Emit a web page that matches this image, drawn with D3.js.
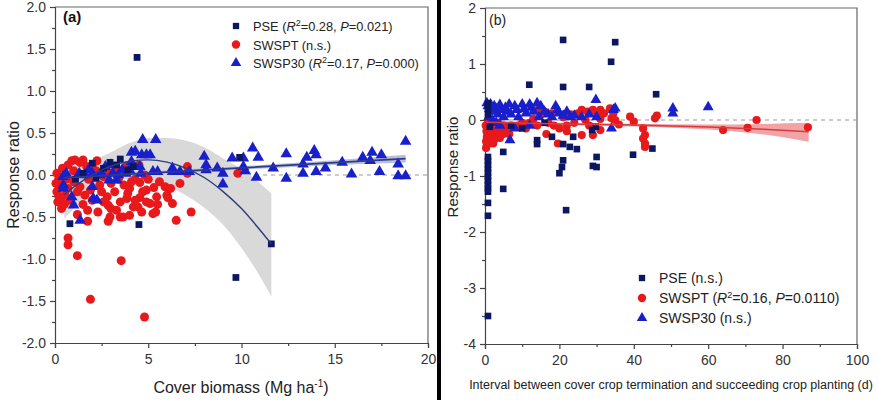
<!DOCTYPE html>
<html><head><meta charset="utf-8">
<script src="https://cdn.jsdelivr.net/npm/d3@7"></script>
<style>
body{margin:0;background:#fff;}
svg{display:block;font-family:"Liberation Sans",Arial,sans-serif;}
</style>
</head><body>
<svg id="c" width="879" height="400"></svg>
<script>
// ---------------- DATA ----------------
// Panel (a): x = cover biomass (Mg/ha), y = response ratio
const aPSE = [[0.8,-0.58],[4.5,-0.59],[9.7,-1.22],[11.6,-0.82],[4.4,1.4],[2.0,0.14],[2.95,0.15],[3.5,0.19],[3.3,0.12],[9.9,0.21],[1.5,0.02],[2.6,0.08],[3.9,0.06],[2.2,-0.04],[1.1,-0.05],[4.2,0.1]];
const aSWSPT = [[0.1,0.02],[0.7,0.12],[1.07,0.18],[1.34,0.15],[1.7,0.1],[2.25,0.17],[0.9,0.17],[1.5,0.18],[2.0,0.12],[0.4,0.08],[0.2,-0.05],[0.05,-0.1],[0.27,-0.14],[0.1,-0.2],[0.54,-0.24],[0.7,-0.16],[0.3,-0.3],[0.15,-0.32],[0.6,-0.05],[1.0,-0.08],[1.2,-0.2],[1.34,-0.14],[1.6,-0.24],[1.8,-0.05],[2.4,-0.12],[2.6,-0.02],[2.8,-0.26],[2.85,-0.36],[3.0,-0.1],[3.2,-0.2],[3.5,-0.32],[3.4,-0.05],[3.7,-0.12],[3.85,-0.28],[4.0,-0.16],[4.2,-0.38],[4.3,-0.05],[4.55,-0.27],[4.55,-0.09],[4.8,0.0],[4.9,-0.18],[5.1,-0.34],[5.0,-0.05],[5.45,-0.26],[5.6,-0.08],[5.9,-0.14],[6.05,-0.27],[5.3,-0.15],[0.35,-0.4],[1.75,-0.42],[1.2,-0.47],[1.75,-0.55],[2.3,-0.44],[2.85,-0.55],[2.95,-0.5],[3.5,-0.5],[3.65,-0.5],[4.0,-0.48],[4.45,-0.38],[4.65,-0.44],[4.9,-0.32],[5.25,-0.46],[5.4,-0.44],[6.0,-0.24],[6.3,-0.34],[6.7,-0.1],[6.5,-0.54],[7.3,-0.44],[6.2,-0.16],[7.1,0.1],[7.1,0.02],[9.8,0.02],[0.7,-0.75],[0.7,-0.83],[1.2,-0.96],[1.9,-1.48],[3.55,-1.02],[4.8,-1.69],[2.2,0.05],[2.9,0.02],[3.3,0.08],[3.8,0.1],[4.5,0.12],[1.0,0.05],[0.5,-0.35],[2.0,-0.3],[2.5,-0.2],[3.0,-0.4],[3.9,-0.22],[4.3,-0.3],[5.5,-0.35],[0.8,-0.3],[1.5,-0.35],[3.2,0.04],[4.7,-0.2],[0.2,-0.25],[1.9,-0.18],[2.6,-0.32],[3.3,-0.42],[4.1,-0.08]];
const aSWSP30 = [[0.45,-0.12],[0.43,-0.02],[0.6,0.02],[0.45,-0.16],[0.9,-0.26],[1.0,-0.36],[1.35,-0.54],[1.3,0.02],[1.6,0.0],[2.0,0.02],[2.0,-0.14],[2.05,-0.28],[2.25,-0.3],[2.4,0.0],[2.5,0.02],[2.9,-0.06],[3.1,0.02],[3.3,-0.06],[3.4,0.0],[3.6,0.06],[3.8,0.02],[4.0,0.06],[4.1,0.16],[4.1,0.27],[4.3,0.28],[4.55,0.1],[4.6,0.02],[4.65,0.24],[4.7,0.42],[4.9,0.24],[5.1,0.24],[5.25,0.04],[5.4,0.42],[5.5,0.04],[6.3,0.08],[6.3,0.04],[6.7,0.04],[7.2,0.04],[8.0,0.22],[8.1,0.12],[8.1,0.06],[8.7,0.08],[9.0,0.02],[9.0,-0.11],[9.5,0.2],[10.1,0.2],[10.1,0.1],[10.2,0.05],[10.6,0.32],[10.9,0.21],[10.8,-0.03],[11.7,0.08],[12.4,0.25],[12.4,-0.04],[13.3,0.13],[13.3,0.02],[13.5,0.21],[13.9,0.29],[14.0,0.24],[14.0,0.04],[14.5,0.08],[15.4,0.15],[15.9,0.01],[16.5,0.21],[16.9,0.17],[17.0,0.27],[17.4,0.04],[17.5,0.24],[18.4,0.13],[18.4,-0.01],[18.8,-0.01],[18.8,0.4],[1.8,0.06],[2.7,0.1],[3.0,0.12]];
// fitted curves: [x, fit, lower, upper]
const aPSEfit = [[0.5,-0.236,-0.52,0.05],[1,-0.145,-0.40,0.10],[2,0.002,-0.17,0.17],[3,0.105,-0.06,0.27],[4,0.164,-0.05,0.38],[5,0.18,-0.08,0.44],[6,0.154,-0.13,0.44],[7,0.083,-0.24,0.41],[8,-0.03,-0.39,0.33],[9,-0.195,-0.59,0.2],[10,-0.40,-0.87,0.07],[11,-0.657,-1.21,-0.1],[11.6,-0.82,-1.45,-0.22]];
const aSWSP30fit = [[0.45,-0.035,-0.08,0.01],[5,0.022,0.0,0.045],[10,0.085,0.065,0.105],[15,0.148,0.12,0.176],[18.8,0.195,0.15,0.24]];
// Panel (b): x = interval (d), y = response ratio
const bPSE = [[21,1.43],[35,1.39],[33.9,1.04],[11.9,0.63],[21,0.59],[28,0.59],[46,0.46],[0.8,0.3],[0.8,0.2],[0.8,0.1],[4.9,-0.57],[4.9,-1.23],[14,-0.36],[14,-0.43],[18,-0.3],[20,-0.95],[20.7,-0.84],[21,-0.72],[21,-0.43],[22.8,-0.48],[23.7,-0.3],[24.7,-0.52],[29,-0.82],[30,-0.84],[30,-0.66],[29.8,-0.12],[28.8,-0.18],[39.8,-0.62],[45,-0.51],[1.3,-0.12],[0.8,-0.66],[0.8,-0.73],[0.8,-0.8],[0.8,-0.87],[0.8,-0.94],[0.8,-1.01],[0.8,-1.08],[0.8,-1.15],[0.8,-1.22],[0.8,-1.28],[0.8,-1.48],[0.8,-1.71],[0.8,-3.5],[21.8,-1.61],[7,-0.1],[10,-0.15],[16,-0.05]];
const bSWSPT = [[0.3,-0.5],[0.5,-0.45],[0.8,-0.4],[1,-0.35],[1.2,-0.3],[1.5,-0.25],[0.5,-0.3],[0.4,-0.2],[0.6,-0.1],[0.8,0.0],[1,-0.15],[1.5,-0.4],[2,-0.3],[2,-0.2],[2.5,-0.35],[2.5,-0.15],[3,-0.28],[3,-0.1],[3.5,-0.25],[3.5,-0.05],[4,-0.2],[4,-0.32],[4.5,-0.15],[5,-0.25],[5,-0.1],[5.5,-0.2],[6,-0.15],[6.5,-0.25],[7,-0.1],[1.2,-0.05],[1.8,-0.12],[2.2,-0.42],[0.3,-0.38],[0.2,-0.1],[9,-0.1],[10,-0.05],[11,-0.15],[12,-0.05],[13,0.02],[14,-0.1],[14.2,0.18],[15,0.1],[16,0.15],[17,-0.05],[18,0.12],[18.5,-0.1],[19.6,-0.42],[20,-0.15],[21,0.05],[22,-0.1],[23,0.1],[24,-0.05],[25,0.12],[26,0.18],[26,-0.27],[27,0.0],[27.5,0.15],[28,-0.1],[29,0.18],[29,-0.27],[30,0.1],[31,0.18],[31,0.02],[31,-0.18],[32,0.12],[33.6,0.21],[34,0.03],[34.5,0.12],[39,0.06],[40,-0.03],[42.5,-0.15],[42.5,-0.33],[43,-0.27],[43,-0.42],[43,-0.48],[45.7,0.03],[46.2,0.08],[64,-0.18],[70.6,-0.14],[73,0.0],[86.8,-0.13],[35,0.0],[36,-0.08],[16.5,-0.25],[22,-0.2]];
const bSWSP30 = [[0.5,0.3],[0.8,0.25],[1.2,0.2],[1.5,0.28],[2,0.15],[2.5,0.25],[3,0.2],[3.5,0.1],[4,0.27],[4.5,0.18],[5,0.05],[5.5,0.22],[6,0.15],[6.5,0.28],[7,0.1],[8,0.25],[8.5,0.18],[9,0.05],[10,0.28],[10.5,0.2],[11,0.12],[12,0.28],[12.5,0.22],[13,0.15],[14,0.3],[14.5,0.05],[15,0.25],[16,0.15],[17,0.1],[18,0.05],[19,0.25],[19.5,0.18],[20,0.12],[21,0.08],[22,0.15],[23,0.05],[24,0.08],[1,0.05],[2,0.0],[3,-0.05],[4,-0.1],[6.7,-0.36],[8,-0.15],[12,-0.1],[29.8,0.36],[35,0.21],[34,-0.15],[50.5,0.21],[50.5,0.12],[60,0.23],[34.5,0.18],[26,0.05],[28,0.1],[30,0.05]];
const bSWSPTfit = [[0.5,-0.04,-0.07,-0.01],[20,-0.07,-0.09,-0.05],[40,-0.09,-0.115,-0.065],[60,-0.125,-0.17,-0.08],[75,-0.165,-0.26,-0.07],[87,-0.21,-0.39,-0.05]];
// axes / ticks
const aXTicks = [0,5,10,15,20], aXMinor = [2.5,7.5,12.5,17.5];
const aYTicks = [2,1.5,1,0.5,0,-0.5,-1,-1.5,-2], aYMinor = [1.75,1.25,0.75,0.25,-0.25,-0.75,-1.25,-1.75];
const bXTicks = [0,20,40,60,80,100], bXMinor = [10,30,50,70,90];
const bYTicks = [2,1,0,-1,-2,-3,-4], bYMinor = [1.5,0.5,-0.5,-1.5,-2.5,-3.5];

// ---------------- DRAW ----------------
const svg = d3.select("#c");
const C = {navy:"#0c1763", red:"#e8191b", blue:"#1a1fcc", axis:"#444", txt:"#333"};

function panel(o){
  const g = svg.append("g");
  const x = d3.scaleLinear().domain(o.xd).range([o.L,o.R]);
  const y = d3.scaleLinear().domain(o.yd).range([o.B,o.T]);
  g.append("path").attr("d",`M${o.L},${o.T}H${o.R}V${o.B}`).attr("fill","none").attr("stroke","#666").attr("stroke-width",1.2);
  g.append("line").attr("x1",o.L).attr("x2",o.R).attr("y1",y(0)).attr("y2",y(0))
    .attr("stroke","#999").attr("stroke-dasharray","4,4").attr("stroke-width",1);
  g.append("g").attr("transform",`translate(0,${o.B})`)
    .call(d3.axisBottom(x).tickValues(o.xt).tickSize(5).tickPadding(6).tickFormat(d=>d));
  g.append("g").attr("transform",`translate(0,${o.B})`)
    .call(d3.axisBottom(x).tickValues(o.xm).tickSize(3).tickFormat("")).select(".domain").remove();
  g.append("g").attr("transform",`translate(${o.L},0)`)
    .call(d3.axisLeft(y).tickValues(o.yt).tickSize(5).tickPadding(4).tickFormat(o.yf));
  g.append("g").attr("transform",`translate(${o.L},0)`)
    .call(d3.axisLeft(y).tickValues(o.ym).tickSize(3).tickFormat("")).select(".domain").remove();
  g.selectAll(".domain,.tick line").attr("stroke",C.axis).attr("stroke-width",1.2);
  g.selectAll(".tick text").attr("fill",C.txt).style("font-size","14px").style("font-family","Liberation Sans, Arial, sans-serif");
  return {g,x,y};
}

function bands(p, fit, fill, lineColor, lw, curve){
  const area = d3.area().x(d=>p.x(d[0])).y0(d=>p.y(d[2])).y1(d=>p.y(d[3])).curve(curve);
  const line = d3.line().x(d=>p.x(d[0])).y(d=>p.y(d[1])).curve(curve);
  p.g.append("path").datum(fit).attr("d",area).attr("fill",fill);
  return {line: ()=>p.g.append("path").datum(fit).attr("d",line).attr("fill","none").attr("stroke",lineColor).attr("stroke-width",lw)};
}

function points(p, data, type, size){
  const gg = p.g.append("g");
  if(type==="circle"){
    gg.selectAll("circle").data(data).join("circle").attr("cx",d=>p.x(d[0])).attr("cy",d=>p.y(d[1])).attr("r",size).attr("fill",C.red);
  } else {
    const sym = d3.symbol().type(type==="square"?d3.symbolSquare:d3.symbolTriangle).size(size);
    gg.selectAll("path").data(data).join("path").attr("d",sym)
      .attr("transform",d=>`translate(${p.x(d[0])},${p.y(d[1])})`)
      .attr("fill",type==="square"?C.navy:C.blue);
  }
}

function legend(g, x0, y0, dy, fs, items){
  items.forEach((it,i)=>{
    const yy = y0 + i*dy;
    if(it.t==="circle") g.append("circle").attr("cx",x0).attr("cy",yy).attr("r",4.2).attr("fill",C.red);
    else g.append("path").attr("d",d3.symbol().type(it.t==="square"?d3.symbolSquare:d3.symbolTriangle).size(it.t==="square"?40:48)())
      .attr("transform",`translate(${x0},${yy})`).attr("fill",it.t==="square"?C.navy:C.blue);
    const tx = g.append("text").attr("x",x0+17).attr("y",yy+5).attr("fill","#222").style("font-size",fs+"px");
    it.parts.forEach(pt=>{
      const ts = tx.append("tspan").text(pt.s);
      if(pt.i) ts.style("font-style","italic");
      if(pt.sup) ts.attr("dy",-5).style("font-size","9px");
      if(pt.back) ts.attr("dy",5);
    });
  });
}

// Panel a
const pa = panel({L:55,R:428,T:7,B:343,xd:[0,20],yd:[-2,2],xt:aXTicks,xm:aXMinor,yt:aYTicks,ym:aYMinor,yf:d=>d.toFixed(1)});
const fa1 = bands(pa, aPSEfit, "#d9d9d9", "#2f3b7e", 1.4, d3.curveMonotoneX);
const fa2 = bands(pa, aSWSP30fit, "#b9bfd6", "#2b3a8f", 1.8, d3.curveLinear);
points(pa, aSWSPT, "circle", 4.5);
points(pa, aSWSP30, "triangle", 58);
points(pa, aPSE, "square", 46);
fa1.line(); fa2.line();
pa.g.append("text").attr("x",63).attr("y",22).text("(a)").style("font-size","15px").style("font-weight","bold").attr("fill","#111");
legend(pa.g, 236, 26, 18.5, 12.8, [
  {t:"square",parts:[{s:"PSE ("},{s:"R",i:1},{s:"2",sup:1},{s:"=0.28, ",back:1},{s:"P",i:1},{s:"=0.021)"}]},
  {t:"circle",parts:[{s:"SWSPT (n.s.)"}]},
  {t:"triangle",parts:[{s:"SWSP30 ("},{s:"R",i:1},{s:"2",sup:1},{s:"=0.17, ",back:1},{s:"P",i:1},{s:"=0.000)"}]}
]);
svg.append("text").attr("x",241).attr("y",393).attr("text-anchor","middle").style("font-size","16px").attr("fill","#222")
  .call(t=>{t.append("tspan").text("Cover biomass (Mg ha");t.append("tspan").text("-1").attr("dy",-6).style("font-size","10px");t.append("tspan").text(")").attr("dy",6);});
svg.append("text").attr("transform","translate(19,175) rotate(-90)").attr("text-anchor","middle").style("font-size","16px").attr("fill","#222").text("Response ratio");

// divider
svg.append("rect").attr("x",437).attr("y",0).attr("width",4).attr("height",400).attr("fill","#000");

// Panel b
const pb = panel({L:485,R:857,T:8,B:344,xd:[0,100],yd:[-4,2],xt:bXTicks,xm:bXMinor,yt:bYTicks,ym:bYMinor,yf:d=>String(d)});
const fb = bands(pb, bSWSPTfit, "#f2a3a6", "#d93a3f", 1.5, d3.curveMonotoneX);
points(pb, bSWSPT, "circle", 4.1);
points(pb, bSWSP30, "triangle", 52);
points(pb, bPSE, "square", 44);
fb.line();
pb.g.append("text").attr("x",489).attr("y",25).text("(b)").style("font-size","14px").attr("fill","#222");
legend(pb.g, 642, 278, 20, 14, [
  {t:"square",parts:[{s:"PSE (n.s.)"}]},
  {t:"circle",parts:[{s:"SWSPT ("},{s:"R",i:1},{s:"2",sup:1},{s:"=0.16, ",back:1},{s:"P",i:1},{s:"=0.0110)"}]},
  {t:"triangle",parts:[{s:"SWSP30 (n.s.)"}]}
]);
svg.append("text").attr("x",671).attr("y",389).attr("text-anchor","middle").style("font-size","12.5px").attr("fill","#222")
  .text("Interval between cover crop termination and succeeding crop planting (d)");
svg.append("text").attr("transform","translate(458,167) rotate(-90)").attr("text-anchor","middle").style("font-size","15px").attr("fill","#222").text("Response ratio");
</script>
</body></html>
